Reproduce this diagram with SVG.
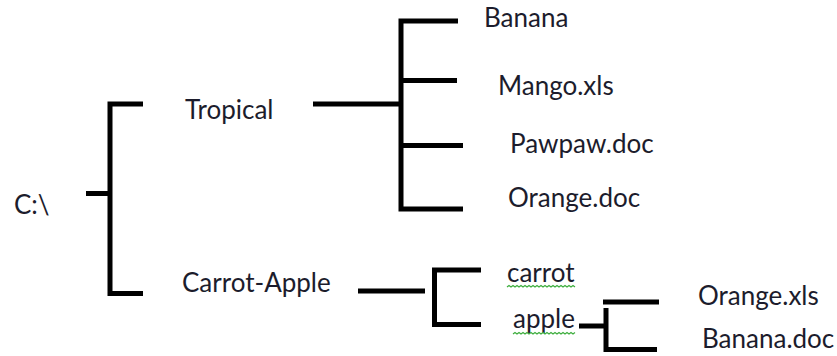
<svg xmlns="http://www.w3.org/2000/svg" width="837" height="356" viewBox="0 0 837 356">
  <style>
    .lbl { font-family: Lato, "Liberation Sans", sans-serif; font-size: 26px; fill: #1c1c2c; }
    .wire { fill: none; stroke: #000; stroke-width: 5; stroke-linejoin: miter; stroke-linecap: butt; }
    .spell { fill: none; stroke: #3fae3f; stroke-width: 1.2; }
  </style>
  <rect width="837" height="356" fill="#fff"/>

  <!-- tree connectors -->
  <g id="connectors">
    <path class="wire" d="M86,193.5 H110"/>
    <path class="wire" d="M143,104 H110 V293.5 H143"/>
    <path class="wire" d="M313,104 H401"/>
    <path class="wire" d="M458,21 H401 V209 H463"/>
    <path class="wire" d="M401,80.5 H457"/>
    <path class="wire" d="M401,145.5 H463"/>
    <path class="wire" d="M358,291 H425"/>
    <path class="wire" d="M481,270 H434.5 V324.5 H481"/>
    <path class="wire" d="M579,326 H604"/>
    <path class="wire" d="M603,302 H659"/>
    <path class="wire" d="M606,308 V349.5 H657"/>
  </g>

  <g id="node-root"><text class="lbl" x="14" y="214">C:\</text></g>
  <g id="node-tropical"><text class="lbl" x="185" y="119">Tropical</text></g>
  <g id="node-carrot-apple"><text class="lbl" x="182" y="292">Carrot-Apple</text></g>
  <g id="node-banana"><text class="lbl" x="484" y="27">Banana</text></g>
  <g id="node-mango"><text class="lbl" x="498" y="95">Mango.xls</text></g>
  <g id="node-pawpaw"><text class="lbl" x="510" y="153">Pawpaw.doc</text></g>
  <g id="node-orange-doc"><text class="lbl" x="508" y="207">Orange.doc</text></g>
  <g id="node-carrot">
    <text class="lbl" x="507" y="282">carrot</text>
    <path class="spell" d="M507,287 l2,-1.5 l2,1.5 l2,-1.5 l2,1.5 l2,-1.5 l2,1.5 l2,-1.5 l2,1.5 l2,-1.5 l2,1.5 l2,-1.5 l2,1.5 l2,-1.5 l2,1.5 l2,-1.5 l2,1.5 l2,-1.5 l2,1.5 l2,-1.5 l2,1.5 l2,-1.5 l2,1.5 l2,-1.5 l2,1.5 l2,-1.5 l2,1.5 l2,-1.5 l2,1.5 l2,-1.5 l2,1.5 l2,-1.5 l2,1.5 l2,-1.5 l2,1.5"/>
  </g>
  <g id="node-apple">
    <text class="lbl" x="513" y="328">apple</text>
    <path class="spell" d="M513,334 l2,-1.5 l2,1.5 l2,-1.5 l2,1.5 l2,-1.5 l2,1.5 l2,-1.5 l2,1.5 l2,-1.5 l2,1.5 l2,-1.5 l2,1.5 l2,-1.5 l2,1.5 l2,-1.5 l2,1.5 l2,-1.5 l2,1.5 l2,-1.5 l2,1.5 l2,-1.5 l2,1.5 l2,-1.5 l2,1.5 l2,-1.5 l2,1.5 l2,-1.5 l2,1.5 l2,-1.5 l2,1.5 l2,-1.5"/>
  </g>
  <g id="node-orange-xls"><text class="lbl" x="698" y="305">Orange.xls</text></g>
  <g id="node-banana-doc"><text class="lbl" x="702" y="348">Banana.doc</text></g>
</svg>
